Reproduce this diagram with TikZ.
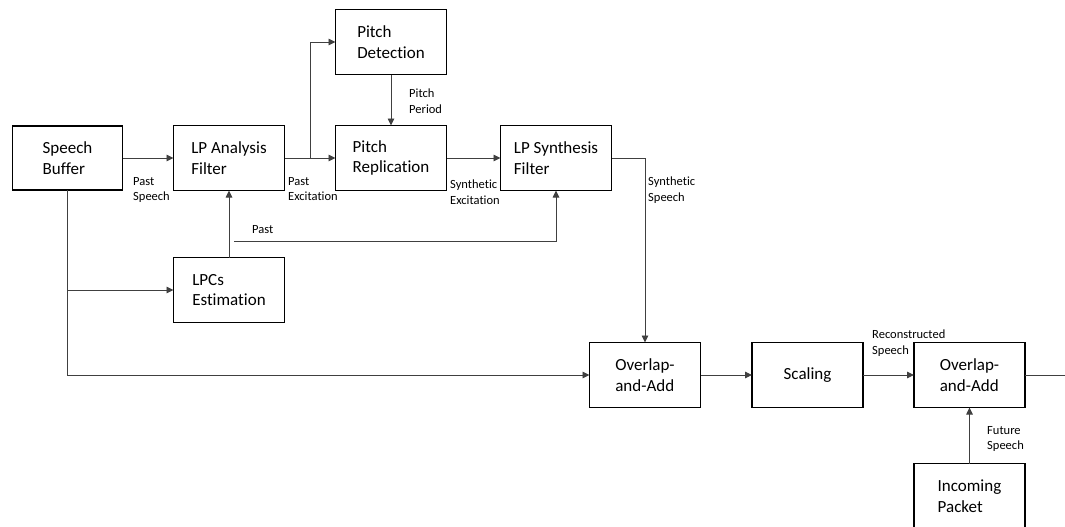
\documentclass[tikz,border=0pt]{standalone}
\usepackage{fontspec}
\setmainfont{Carlito}[Ligatures=NoCommon]
\usetikzlibrary{arrows.meta}
\begin{document}
\begin{tikzpicture}[x=1pt,y=-1pt,
  blk/.style={draw=black, line width=1.2pt, inner sep=0pt, outer sep=0pt,
    minimum width=111pt, minimum height=65pt, align=left,
    font=\fontsize{17}{20.7}\selectfont},
  lbl/.style={anchor=north west, inner sep=0pt, align=left,
    font=\fontsize{12.5}{15.3}\selectfont},
  wire/.style={draw=black!75, line width=0.9pt},
  arr/.style={wire, -{Triangle[length=7pt,width=6.5pt]}}]
\path[clip] (0,0) rectangle (1065,527);

% processing blocks
\node[blk, minimum width=110pt, minimum height=64pt] (sb) at (67.5,158) {Speech\\Buffer};
\node[blk] (lpa) at (229,158) {LP Analysis\\Filter};
\node[blk] (lpc) at (229,290) {LPCs\\Estimation};
\node[blk] (pd) at (391,42) {Pitch\\Detection};
\node[blk] (pr) at (391,158) {Pitch\\Replication};
\node[blk] (lps) at (556,158) {LP Synthesis\\Filter};
\node[blk] (ola1) at (645,375) {Overlap-\\and-Add};
\node[blk] (sc) at (807.5,375) {Scaling};
\node[blk] (ola2) at (969.5,375) {Overlap-\\and-Add};
\node[blk] (ip) at (969.5,496) {Incoming\\Packet};

% junctions and free ends
\coordinate (j1) at (310,158);
\coordinate (j2) at (67.5,290);
\coordinate (pastStart) at (234,241);
\coordinate (outEnd) at (1068,375);

% signal flow
\draw[arr] (sb.east) -- (lpa.west);
\draw[arr] (lpa.east) -- (pr.west);
\draw[arr] (j1) |- (pd.west);
\draw[arr] (pd.south) -- (pr.north);
\draw[arr] (pr.east) -- (lps.west);
\draw[arr] (lpc.north) -- (lpa.south);
\draw[arr] (pastStart) -| (lps.south);
\draw[arr] (sb.south) |- (ola1.west);
\draw[arr] (j2) -- (lpc.west);
\draw[arr] (lps.east) -| (ola1.north);
\draw[arr] (ola1.east) -- (sc.west);
\draw[arr] (sc.east) -- (ola2.west);
\draw[wire] (ola2.east) -- (outEnd);
\draw[arr] (ip.north) -- (ola2.south);

% signal labels
\node[lbl] (lPastSpeech) at (133,177) {Past\\Speech};
\node[lbl] (lPastExc) at (288,177) {Past\\Excitation};
\node[lbl] (lPitchPer) at (409,89) {Pitch\\Period};
\node[lbl] (lSynExc) at (450,180) {Synthetic\\Excitation};
\node[lbl] (lPast) at (252,225) {Past};
\node[lbl] (lSynSp) at (648,177) {Synthetic\\Speech};
\node[lbl] (lRecSp) at (872,330) {Reconstructed\\Speech};
\node[lbl] (lFutSp) at (987,426) {Future\\Speech};
\end{tikzpicture}
\end{document}
